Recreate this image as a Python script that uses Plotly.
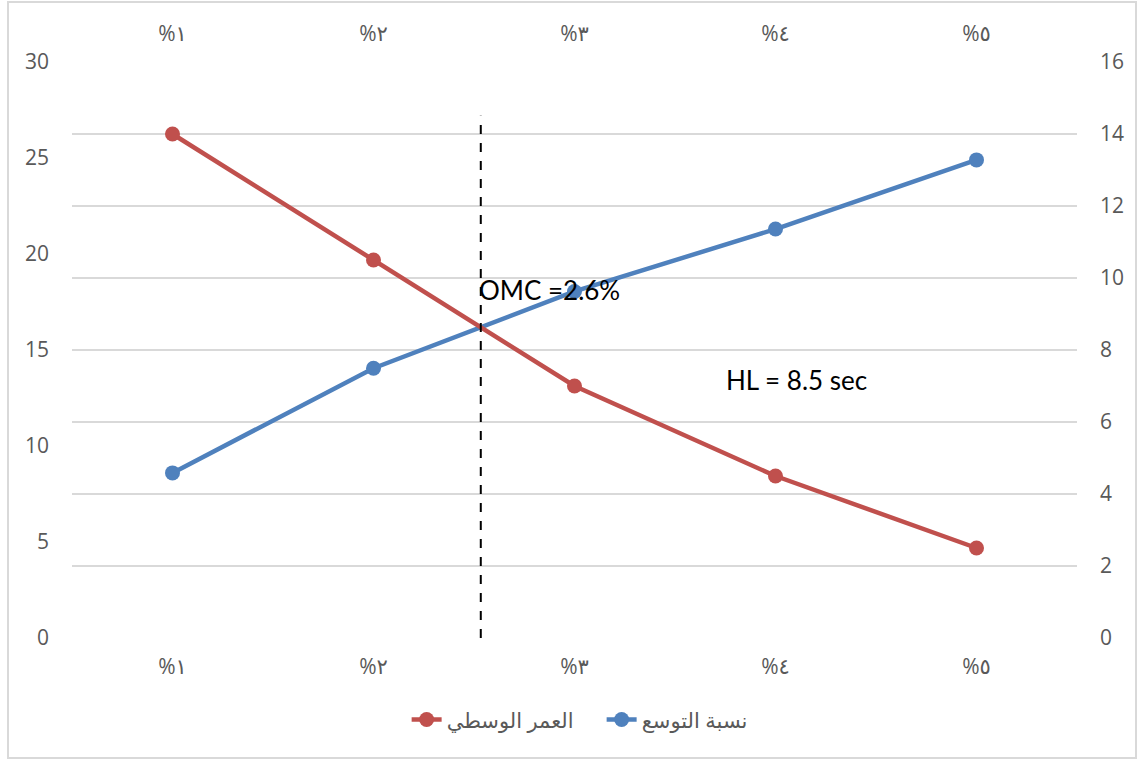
import numpy as np
import plotly.graph_objects as go

# Categories (expansion percentages) and tick labels
categories = [1, 2, 3, 4, 5]
tick_labels = ["%١", "%٢", "%٣", "%٤", "%٥"]

# Series
expansion_name = "نسبة التوسع"
expansion_ratio = [8.6, 14.05, 18.05, 21.3, 24.9]      # left axis
median_age_name = "العمر الوسطي"
median_age = [14.0, 10.5, 7.0, 4.5, 2.5]               # right axis (seconds)

# Axis ranges and ticks
left_range = [0, 30]
left_ticks = [0, 5, 10, 15, 20, 25, 30]
right_range = [0, 16]
right_ticks = [0, 2, 4, 6, 8, 10, 12, 14, 16]

# Annotations
omc_text = "OMC =2.6%"
hl_text = "HL = 8.5 sec"
omc_line_top = 27.2
omc_label_y = 18.15
hl_label_x, hl_label_y = 3.76, 13.45

BLUE = "#4F81BD"
RED = "#C0504D"
GRID = "#D9D9D9"
TICK_FONT = dict(family="Open Sans, DejaVu Sans", size=21, color="#595959")

# Crossing point of the two curves, expressed in left-axis units
scale = (left_range[1] - left_range[0]) / (right_range[1] - right_range[0])
diff = np.array(expansion_ratio) - np.array(median_age) * scale
idx = int(np.where(np.diff(np.sign(diff)) != 0)[0][0])
t = diff[idx] / (diff[idx] - diff[idx + 1])
cross_x = categories[idx] + t * (categories[idx + 1] - categories[idx])

fig = go.Figure()

fig.add_trace(go.Scatter(
    x=categories, y=median_age, name=median_age_name, yaxis="y2",
    mode="lines+markers",
    line=dict(color=RED, width=4.5),
    marker=dict(color=RED, size=15),
))
fig.add_trace(go.Scatter(
    x=categories, y=expansion_ratio, name=expansion_name, yaxis="y",
    mode="lines+markers",
    line=dict(color=BLUE, width=4.5),
    marker=dict(color=BLUE, size=15),
))
# carries the top category axis
fig.add_trace(go.Scatter(
    x=categories, y=[None] * len(categories), xaxis="x2",
    showlegend=False, hoverinfo="skip", mode="markers",
))

# Dashed marker at the optimum
fig.add_shape(type="line", xref="x", yref="y",
              x0=cross_x, x1=cross_x, y0=0, y1=omc_line_top,
              line=dict(color="black", width=2, dash="dash"))

ANN_FONT = dict(family="Lato, Liberation Sans", size=26, color="black")
fig.add_annotation(x=cross_x, y=omc_label_y, xref="x", yref="y",
                   text=omc_text, showarrow=False, xanchor="left", yanchor="middle",
                   xshift=-4, font=ANN_FONT)
fig.add_annotation(x=hl_label_x, y=hl_label_y, xref="x", yref="y",
                   text=hl_text, showarrow=False, xanchor="left", yanchor="middle",
                   xshift=-3, font=ANN_FONT)

# Chart border
fig.add_shape(type="rect", xref="paper", yref="paper",
              x0=-0.0637, x1=1.0587, y0=-0.2083, y1=1.1042,
              line=dict(color=GRID, width=2), fillcolor="rgba(0,0,0,0)", layer="below")

axis_x = dict(range=[0.5, 5.5], tickvals=categories, ticktext=tick_labels,
              showgrid=False, zeroline=False, showline=False, ticks="",
              tickfont=TICK_FONT)

fig.update_layout(
    width=1138, height=760,
    margin=dict(l=72, r=61, t=62, b=122),
    paper_bgcolor="white", plot_bgcolor="white",
    xaxis=dict(**axis_x, ticklabelstandoff=14),
    xaxis2=dict(**axis_x, overlaying="x", side="top", matches="x", ticklabelstandoff=16),
    yaxis=dict(range=left_range, tickvals=left_ticks, showgrid=False, zeroline=False,
               showline=False, ticks="", tickfont=TICK_FONT, ticklabelstandoff=22),
    yaxis2=dict(range=right_range, tickvals=right_ticks, overlaying="y", side="right",
                showgrid=True, gridcolor=GRID, gridwidth=1.5, zeroline=False,
                showline=False, ticks="", tickfont=TICK_FONT, ticklabelstandoff=22),
    legend=dict(orientation="h", x=0.527, xanchor="center", y=-0.142, yanchor="middle",
                font=dict(family="Open Sans, DejaVu Sans", size=21, color="#595959"),
                entrywidth=150, entrywidthmode="pixels",
                bgcolor="rgba(0,0,0,0)"),
    showlegend=True,
)

fig.write_html("out.html")
